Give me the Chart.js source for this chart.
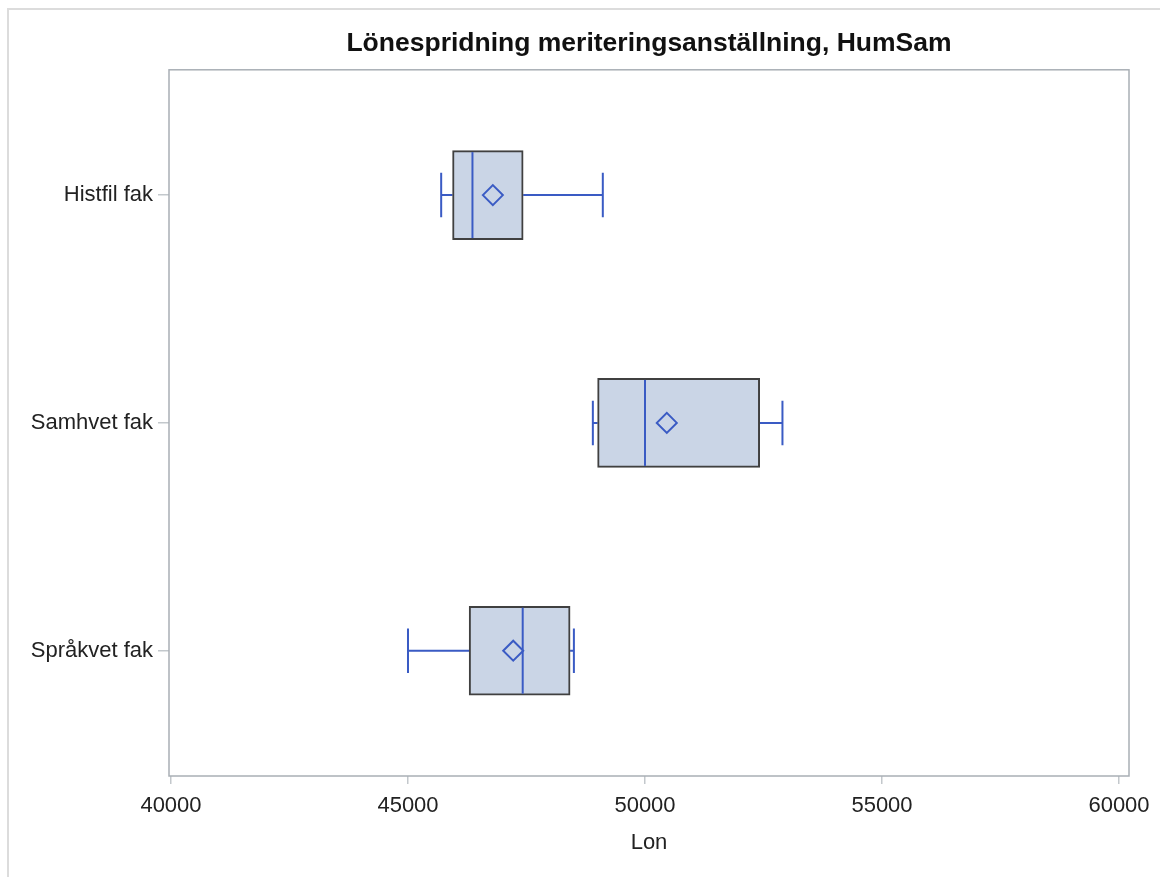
<!DOCTYPE html>
<html>
<head>
<meta charset="utf-8">
<script src="https://cdn.jsdelivr.net/npm/chart.js@4/dist/chart.umd.min.js"></script>
<style>
  html, body { margin: 0; padding: 0; background: #fff; }
  #wrap { position: relative; width: 1160px; height: 877px; overflow: hidden; }
  #frame { position: absolute; left: 7px; top: 8px; width: 1200px; height: 900px;
           border-left: 2px solid #dcdcdc; border-top: 2px solid #dcdcdc; }
  canvas { position: absolute; left: 0; top: 0; }
</style>
</head>
<body>
<div id="wrap">
  <div id="frame"></div>
  <canvas id="chart" width="1160" height="877"></canvas>
</div>
<script>
// Lönespridning per fakultet (läst ur bilden)
const categories = ['Histfil fak', 'Samhvet fak', 'Språkvet fak'];
const minVals    = [45700, 48900, 45000];
const q1Vals     = [45940, 49000, 46290];
const medianVals = [46360, 50000, 47420];
const meanVals   = [46790, 50460, 47220];
const q3Vals     = [47430, 52420, 48420];
const maxVals    = [49110, 52900, 48500];
const xTicks     = [40000, 45000, 50000, 55000, 60000];

const FONT = 'Liberation Sans, Arial, sans-serif';
const LINE_BLUE = '#3a5bc4';
const BOX_FILL = '#cad5e6';
const BOX_EDGE = '#404040';
const BOX_H = 89;

// morrhår (bakom lådan), median ovanpå lådan, ram runt plottytan
const whiskerPlugin = {
  id: 'whiskers',
  beforeDatasetsDraw(chart) {
    const { ctx, scales: { x, y } } = chart;
    ctx.save();
    ctx.strokeStyle = LINE_BLUE;
    ctx.lineWidth = 2;
    categories.forEach((c, i) => {
      const cy = y.getPixelForValue(i);
      const xl = x.getPixelForValue(minVals[i]);
      const xr = x.getPixelForValue(maxVals[i]);
      const capH = BOX_H / 4;
      ctx.beginPath();
      ctx.moveTo(xl, cy); ctx.lineTo(x.getPixelForValue(q1Vals[i]), cy);
      ctx.moveTo(x.getPixelForValue(q3Vals[i]), cy); ctx.lineTo(xr, cy);
      ctx.moveTo(xl, cy - capH); ctx.lineTo(xl, cy + capH);
      ctx.moveTo(xr, cy - capH); ctx.lineTo(xr, cy + capH);
      ctx.stroke();
    });
    ctx.restore();
  },
  afterDatasetDraw(chart, args) {
    if (args.index !== 0) return;
    const { ctx, scales: { x, y } } = chart;
    ctx.save();
    ctx.strokeStyle = LINE_BLUE;
    ctx.lineWidth = 2;
    categories.forEach((c, i) => {
      const cy = y.getPixelForValue(i);
      const mx = x.getPixelForValue(medianVals[i]);
      ctx.beginPath();
      ctx.moveTo(mx, cy - BOX_H / 2 + 1.5);
      ctx.lineTo(mx, cy + BOX_H / 2 - 1.5);
      ctx.stroke();
    });
    ctx.restore();
  },
  afterDraw(chart) {
    const { ctx, chartArea: a } = chart;
    ctx.save();
    ctx.strokeStyle = '#a9afb5';
    ctx.lineWidth = 1.5;
    ctx.strokeRect(a.left, a.top, a.right - a.left, a.bottom - a.top);
    ctx.restore();
  }
};

new Chart(document.getElementById('chart'), {
  type: 'bar',
  data: {
    datasets: [
      {
        type: 'bar',
        order: 2,
        data: categories.map((c, i) => ({ x: [q1Vals[i], q3Vals[i]], y: i })),
        backgroundColor: BOX_FILL,
        borderColor: BOX_EDGE,
        borderWidth: 2,
        borderSkipped: false,
        barThickness: BOX_H
      },
      {
        type: 'scatter',
        order: 1,
        data: categories.map((c, i) => ({ x: meanVals[i], y: i })),
        pointStyle: 'rectRot',
        pointRadius: 10,
        pointBorderWidth: 2,
        pointBorderColor: LINE_BLUE,
        pointBackgroundColor: 'rgba(0,0,0,0)'
      }
    ]
  },
  options: {
    indexAxis: 'y',
    responsive: false,
    animation: false,
    devicePixelRatio: 1,
    layout: { padding: { top: 0, right: 31, bottom: 0, left: 0 } },
    plugins: {
      legend: { display: false },
      tooltip: { enabled: false },
      title: {
        display: true,
        text: 'Lönespridning meriteringsanställning, HumSam',
        fullSize: false,
        color: '#111',
        font: { family: FONT, size: 26.5, weight: 'bold' },
        padding: { top: 28, bottom: 10 }
      }
    },
    scales: {
      x: {
        type: 'linear',
        min: 39958,
        max: 60211,
        afterBuildTicks: s => { s.ticks = xTicks.map(v => ({ value: v })); },
        afterFit: s => { s.height = 101; },
        grid: { drawOnChartArea: false, tickLength: 8, tickColor: '#c3c8cc', lineWidth: 1.5 },
        border: { display: false },
        ticks: { color: '#222', font: { family: FONT, size: 22 }, padding: 9, maxRotation: 0,
                 callback: v => String(v) },
        title: { display: true, text: 'Lon', color: '#222', font: { family: FONT, size: 22 }, padding: { top: 0, bottom: 21 } }
      },
      y: {
        type: 'linear',
        reverse: true,
        offset: false,
        min: -0.55,
        max: 2.55,
        afterBuildTicks: s => { s.ticks = categories.map((c, i) => ({ value: i })); },
        afterFit: s => { s.width = 169; },
        grid: { offset: false, drawOnChartArea: false, tickLength: 11, tickColor: '#c3c8cc', lineWidth: 1.5 },
        border: { display: false },
        ticks: { color: '#222', font: { family: FONT, size: 22 }, padding: 5, callback: v => categories[v] }
      }
    }
  },
  plugins: [whiskerPlugin]
});
</script>
</body>
</html>
